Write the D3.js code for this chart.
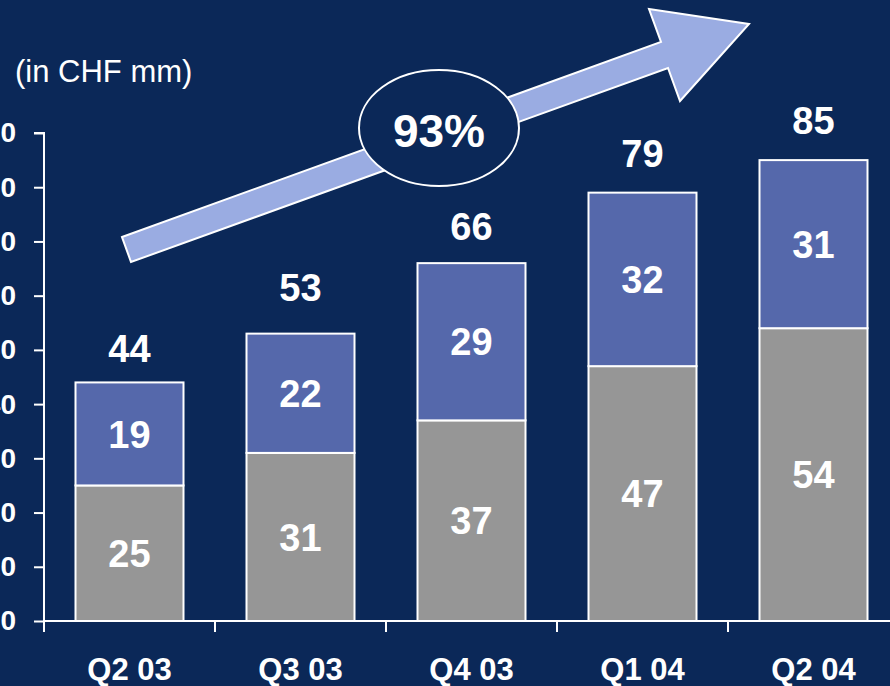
<!DOCTYPE html>
<html>
<head>
<meta charset="utf-8">
<script src="https://cdn.jsdelivr.net/npm/d3@7"></script>
<style>
  html, body { margin: 0; padding: 0; background: #0b2858; }
  svg { display: block; }
  text { font-family: "Liberation Sans", Arial, sans-serif; fill: #ffffff; }
</style>
</head>
<body>
<svg id="chart" width="890" height="686"></svg>
<script>
// ---- data ----
const categories = ["Q2 03", "Q3 03", "Q4 03", "Q1 04", "Q2 04"];
const bottomValues = [25, 31, 37, 47, 54];
const topValues = [19, 22, 29, 32, 31];
const totals = [44, 53, 66, 79, 85];
const yTicks = [0, 10, 20, 30, 40, 50, 60, 70, 80, 90];
const growthLabel = "93%";
const unitLabel = "(in CHF mm)";

// ---- layout ----
const W = 890, H = 686;
const x0 = 44, step = 171, y0 = 621, yTop = 133;
const totalLabelGap = [20, 33, 23, 26, 26];
const barW = 108;

const svg = d3.select("#chart");
svg.append("rect").attr("width", W).attr("height", H).attr("fill", "#0b2858");

const x = d3.scaleBand()
  .domain(categories)
  .range([x0, x0 + step * categories.length])
  .paddingInner(0)
  .paddingOuter(0);
const xc = c => x(c) + x.bandwidth() / 2;

const y = d3.scaleLinear().domain([0, 90]).range([y0, yTop]);

// Y axis
const yAxis = d3.axisLeft(y).tickValues(yTicks).tickSize(10).tickPadding(18).tickFormat(d3.format("d"));
const gy = svg.append("g").attr("transform", `translate(${x0},0)`).call(yAxis);
gy.select(".domain").attr("stroke", "#fff").attr("stroke-width", 2).attr("d", `M-10,${yTop}H0V${y0}`);
gy.selectAll(".tick line").attr("stroke", "#fff").attr("stroke-width", 2);
gy.selectAll(".tick text").attr("fill", "#fff").style("font-size", "28px").style("font-weight", "bold")
  .attr("font-family", null);

// X axis line and ticks (at band boundaries)
const xBounds = categories.map(c => x(c)).concat([x.range()[1]]);
svg.append("line").attr("x1", x0).attr("x2", W).attr("y1", y0).attr("y2", y0)
  .attr("stroke", "#fff").attr("stroke-width", 2);
svg.selectAll(".xtick").data(xBounds).enter().append("line")
  .attr("x1", d => d).attr("x2", d => d).attr("y1", y0).attr("y2", y0 + 11)
  .attr("stroke", "#fff").attr("stroke-width", 2);
svg.selectAll(".xlab").data(categories).enter().append("text")
  .attr("x", d => xc(d)).attr("y", 680)
  .attr("text-anchor", "middle").style("font-size", "31px").style("font-weight", "bold")
  .text(d => d);

// bars
const rows = categories.map((c, i) => ({ c, b: bottomValues[i], t: topValues[i], tot: totals[i], i }));
const g = svg.append("g");
rows.forEach(r => {
  const bx = xc(r.c) - barW / 2;
  g.append("rect").attr("x", bx).attr("width", barW)
    .attr("y", y(r.b)).attr("height", y(0) - y(r.b))
    .attr("fill", "#969696").attr("stroke", "#fff").attr("stroke-width", 2);
  g.append("rect").attr("x", bx).attr("width", barW)
    .attr("y", y(r.b + r.t)).attr("height", y(r.b) - y(r.b + r.t))
    .attr("fill", "#5568ab").attr("stroke", "#fff").attr("stroke-width", 2);
  g.append("text").attr("x", xc(r.c)).attr("y", (y(0) + y(r.b)) / 2).attr("dy", "0.36em")
    .attr("text-anchor", "middle").style("font-size", "38px").style("font-weight", "bold").text(r.b);
  g.append("text").attr("x", xc(r.c)).attr("y", (y(r.b) + y(r.b + r.t)) / 2).attr("dy", "0.36em")
    .attr("text-anchor", "middle").style("font-size", "38px").style("font-weight", "bold").text(r.t);
  g.append("text").attr("x", xc(r.c)).attr("y", y(r.tot) - totalLabelGap[r.i])
    .attr("text-anchor", "middle").style("font-size", "38px").style("font-weight", "bold").text(r.tot);
});

// unit label
svg.append("text").attr("x", 15).attr("y", 82).style("font-size", "31px").text(unitLabel);

// growth arrow annotation
const arrowPts = [[122, 237], [661, 42], [649, 9], [749, 24], [680, 101], [668, 68], [131, 262]];
svg.append("path").attr("d", d3.line()(arrowPts) + "Z")
  .attr("fill", "#9aace2").attr("stroke", "#fff").attr("stroke-width", 2).attr("stroke-linejoin", "miter");
svg.append("ellipse").attr("cx", 439).attr("cy", 128).attr("rx", 80).attr("ry", 58)
  .attr("fill", "#0b2858").attr("stroke", "#fff").attr("stroke-width", 2);
svg.append("text").attr("x", 439).attr("y", 130).attr("dy", "0.36em").attr("text-anchor", "middle")
  .style("font-size", "46px").style("font-weight", "bold").text(growthLabel);
</script>
</body>
</html>
